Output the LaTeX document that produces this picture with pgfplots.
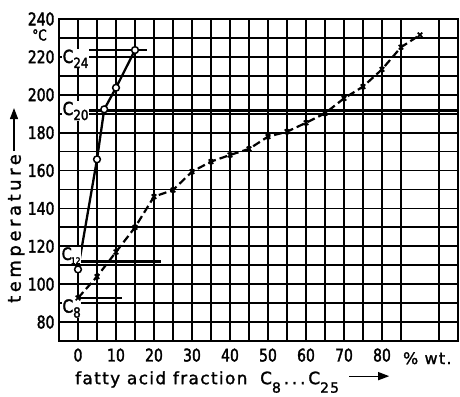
\documentclass[border=0pt]{standalone}
\usepackage{pgfplots}
\pgfplotsset{compat=1.18}
\usepackage{fontspec}
\setmainfont{DejaVu Sans}[FakeBold=1.5]
\newfontfamily\tickfont{DejaVu Sans}[FakeStretch=0.8, FakeBold=2]
\newfontfamily\labfont{DejaVu Sans}[LetterSpace=8, FakeBold=1.5]
\newfontfamily\ylabfont{DejaVu Sans}[LetterSpace=20, FakeBold=1.5]
\newfontfamily\cfont{DejaVu Sans}[FakeStretch=0.85, FakeBold=2]
\usetikzlibrary{arrows.meta}
\newcommand\csub[1]{\raisebox{-5bp}{\fontsize{14}{14}\selectfont #1}}
\newcommand\xsub[1]{\raisebox{-8.5bp}{\fontsize{14}{14}\selectfont #1}}

\pgfplotstableread{
x y
0 107.8
5 165.9
6.9 192.3
10 203.7
15 223.6
}\solid

\pgfplotstableread{
x y
0 92.7
5 104
10 117
15 130
20 146.2
25 149.7
30 159.4
35 164.7
40 168.2
45 171.4
50 177.9
55 180.5
60 185.2
65 190.2
70 198.1
75 204.3
80 213.4
85 225.1
90 231.6
}\dashed

\begin{document}
\begin{tikzpicture}
\begin{axis}[
  scale only axis, width=399bp, height=322bp,
  xmin=-5, xmax=100, ymin=70, ymax=240,
  xtick={0,10,...,80}, ytick={80,100,...,240},
  minor xtick={-5,5,...,95}, minor ytick={70,90,...,230},
  grid=both,
  major grid style={black, line width=1.8pt},
  minor grid style={black, line width=1.8pt},
  axis line style={black, line width=2pt},
  major tick length=0pt, minor tick length=0pt,
  tick label style={font=\tickfont\fontsize{17.5}{17.5}\selectfont},
  /pgf/number format/assume math mode=true,
  xticklabel style={yshift=-4bp},
  yticklabel style={xshift=-1bp},
  clip=false,
]
% reference lines
\addplot[black, line width=2.5pt] coordinates {(0,223.6)(18.2,223.6)};
\addplot[black, line width=3.2pt] coordinates {(2.7,191.6)(100,191.6)};
\addplot[black, line width=3.2pt] coordinates {(0,111.9)(21.8,111.9)};
\addplot[black, line width=2.4pt] coordinates {(0,92.7)(11.5,92.7)};
% curves
\addplot[black, line width=2.2pt, dash pattern=on 8bp off 4bp,
  mark=x, mark size=3.2bp, mark options={solid, line width=1.7pt}] table {\dashed};
\addplot[black, line width=2.3pt, mark=*, mark size=3.4bp,
  mark options={fill=white, draw=black, line width=1.5pt}] table {\solid};
% labels
\node[fill=white, inner sep=0.5pt, anchor=base west, font=\cfont\fontsize{18}{18}\selectfont] at (axis cs:-4.2,216.8) {C\csub{24}};
\node[fill=white, inner sep=0.5pt, anchor=base west, font=\cfont\fontsize{18}{18}\selectfont] at (axis cs:-4.2,189.3) {C\csub{20}};
\node[fill=white, inner sep=0.3pt, anchor=base west, font=\cfont\fontsize{17}{17}\selectfont] at (axis cs:-4.4,112.8) {C\kern-1pt\raisebox{-4bp}{\fontsize{9}{9}\selectfont 12}};
\node[fill=white, inner sep=0.3pt, anchor=base west, font=\cfont\fontsize{18}{18}\selectfont] at (axis cs:-4.2,85.0) {C\csub{8}};
\node[anchor=north west, inner sep=0pt, font=\labfont\fontsize{16}{16}\selectfont] at (axis cs:85.5,70) [yshift=-11bp] {\% wt.};
\node[anchor=center, inner sep=0pt, font=\tickfont\fontsize{15}{15}\selectfont] at (axis cs:-5,240) [xshift=-19.5bp, yshift=-16bp] {°C};
\node[anchor=base west, inner sep=0pt, font=\labfont\fontsize{17}{17}\selectfont] (xl) at (axis description cs:0.04,-0.134) {fatty acid fraction\hspace{6bp} C\xsub{8}\,.\,.\,.\,C\xsub{25}};
\node[rotate=90, anchor=base west, inner sep=0pt, font=\ylabfont\fontsize{18}{18}\selectfont] (yl) at (axis description cs:-0.096,0.118) {temperature};
\end{axis}
\draw[-{Triangle[length=11bp,width=8bp]}, line width=1.3pt] ([xshift=10bp,yshift=8bp]xl.base east) -- ++(40bp,0);
\draw[-{Triangle[length=11bp,width=8bp]}, line width=1.3pt] ([xshift=-6.7bp,yshift=3bp]yl.base east) -- ++(0,43bp);
\pgfresetboundingbox
\path (-59bp,-56bp) rectangle (401bp,341bp);
\end{tikzpicture}
\end{document}
